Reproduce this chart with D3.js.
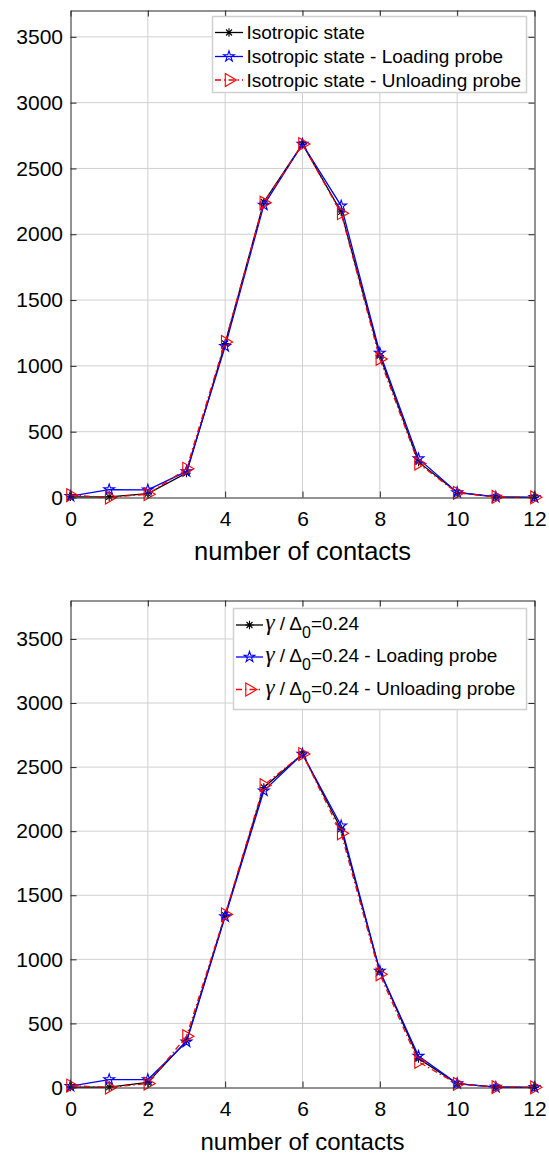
<!DOCTYPE html>
<html>
<head>
<meta charset="utf-8">
<script src="https://cdn.jsdelivr.net/npm/d3@7"></script>
<style>
  body { margin: 0; background: #fff; }
  svg { display: block; font-family: "Liberation Sans", Arial, sans-serif; }
</style>
</head>
<body>
<div id="chart"></div>
<script>
// Distribution of number of contacts: isotropic state and gamma/Delta0 = 0.24

const contacts = [0, 1, 2, 3, 4, 5, 6, 7, 8, 9, 10, 11, 12];
const xTicks = [0, 2, 4, 6, 8, 10, 12];
const yTicks = [0, 500, 1000, 1500, 2000, 2500, 3000, 3500];

// top panel
const isoState     = [5, 5, 30, 185, 1170, 2245, 2685, 2170, 1078, 270, 38, 4, 1];
const isoLoading   = [10, 60, 58, 198, 1148, 2222, 2685, 2216, 1098, 295, 38, 4, 1];
const isoUnloading = [18, 0, 25, 218, 1182, 2240, 2685, 2160, 1053, 258, 35, 4, 1];
const isoLegend = ['Isotropic state', 'Isotropic state - Loading probe', 'Isotropic state - Unloading probe'];

// bottom panel
const gammaState     = [3, 3, 39, 364, 1344, 2341, 2602, 2016, 906, 226, 31, 3, 1];
const gammaLoading   = [10, 62, 62, 356, 1333, 2315, 2602, 2042, 909, 245, 31, 3, 1];
const gammaUnloading = [15, 0, 31, 400, 1350, 2359, 2602, 1984, 883, 200, 28, 3, 1];
const gammaLegendSuffix = ['', ' - Loading probe', ' - Unloading probe'];

const xLabel = 'number of contacts';

function init () {
  const width = 549, height = 1155;
  const left = 70.5, right = 534.5;

  const svg = d3.select('#chart').append('svg')
    .attr('width', width)
    .attr('height', height);

  const styles = [
    { color: '#000000', dash: null, marker: 'asterisk' },
    { color: '#0000ff', dash: null, marker: 'star' },
    { color: '#ff0000', dash: '6,3,1.5,3', marker: 'triangle' },
  ];

  const asteriskPath = 'M-4.2,0H4.2M0,-4.2V4.2M-3,-3L3,3M-3,3L3,-3';
  const starPath = d3.symbol(d3.symbolStar).size(36)();
  const trianglePath = d3.symbol(d3.symbolTriangle).size(72)();

  function drawMarker (g, type, color) {
    let p;
    if (type === 'asterisk') {
      p = g.append('path').attr('d', asteriskPath);
    } else if (type === 'star') {
      p = g.append('path').attr('d', starPath);
    } else {
      p = g.append('path').attr('d', trianglePath).attr('transform', 'rotate(90)');
    }
    p.attr('stroke', color).attr('stroke-width', 1.1).attr('fill', 'none');
  }

  ////////////////////////////////////////////////////////////////////////////////
  // One panel
  function drawPanel (opt) {
    const x = d3.scaleLinear().domain([0, 12]).range([left, right]);
    const y = d3.scaleLinear().domain([0, opt.yMax]).range([opt.bottom, opt.top]);
    const g = svg.append('g');

    // grid
    g.append('g').selectAll('line')
      .data(xTicks.slice(1, -1))
      .enter().append('line')
        .attr('x1', d => x(d)).attr('x2', d => x(d))
        .attr('y1', opt.top).attr('y2', opt.bottom)
        .attr('stroke', '#d0d0d0').attr('stroke-width', 1);
    g.append('g').selectAll('line')
      .data(yTicks.slice(1))
      .enter().append('line')
        .attr('x1', left).attr('x2', right)
        .attr('y1', d => y(d)).attr('y2', d => y(d))
        .attr('stroke', '#d0d0d0').attr('stroke-width', 1);

    // series
    opt.series.forEach((values, i) => {
      const st = styles[i];
      const line = d3.line().x((d, j) => x(contacts[j])).y(d => y(d));
      g.append('path')
        .datum(values)
        .attr('d', line)
        .attr('fill', 'none')
        .attr('stroke', st.color)
        .attr('stroke-width', 1.3)
        .attr('stroke-dasharray', st.dash);
      values.forEach((v, j) => {
        const m = g.append('g').attr('transform', `translate(${x(contacts[j])},${y(v)})`);
        drawMarker(m, st.marker, st.color);
      });
    });

    // axes (ticks inside, on all four sides)
    const axisColor = '#262626';
    const fmt = d3.format('d');
    const axB = g.append('g').attr('transform', `translate(0,${opt.bottom})`)
      .call(d3.axisBottom(x).tickValues(xTicks).tickFormat(fmt).tickSize(-6).tickSizeOuter(0).tickPadding(13.5));
    const axT = g.append('g').attr('transform', `translate(0,${opt.top})`)
      .call(d3.axisTop(x).tickValues(xTicks).tickSize(-6).tickSizeOuter(0).tickFormat(''));
    const axL = g.append('g').attr('transform', `translate(${left},0)`)
      .call(d3.axisLeft(y).tickValues(yTicks).tickFormat(fmt).tickSize(-6).tickSizeOuter(0).tickPadding(7.5));
    const axR = g.append('g').attr('transform', `translate(${right},0)`)
      .call(d3.axisRight(y).tickValues(yTicks).tickSize(-6).tickSizeOuter(0).tickFormat(''));
    [axB, axT, axL, axR].forEach(a => {
      a.attr('font-family', null).attr('font-size', null);
      a.select('.domain').attr('stroke', axisColor);
      a.selectAll('.tick line').attr('stroke', axisColor);
      a.selectAll('.tick text').attr('fill', '#000').style('font-size', '21px');
    });

    // x label
    g.append('text')
      .attr('x', (left + right) / 2)
      .attr('y', opt.labelBaseline)
      .attr('text-anchor', 'middle')
      .style('font-size', opt.labelSize)
      .attr('fill', '#000')
      .text(xLabel);

    // legend
    const lg = opt.legend;
    g.append('rect')
      .attr('x', lg.x).attr('y', lg.y)
      .attr('width', lg.w).attr('height', lg.h)
      .attr('fill', '#fff')
      .attr('stroke', '#d0d0d0')
      .attr('stroke-width', 1.5);
    lg.rows.forEach((row, i) => {
      const st = styles[i];
      g.append('line')
        .attr('x1', lg.lineX[0]).attr('x2', lg.lineX[1])
        .attr('y1', row.cy).attr('y2', row.cy)
        .attr('stroke', st.color)
        .attr('stroke-width', 1.3)
        .attr('stroke-dasharray', st.dash);
      const m = g.append('g').attr('transform', `translate(${(lg.lineX[0] + lg.lineX[1]) / 2},${row.cy})`);
      drawMarker(m, st.marker, st.color);
      const t = g.append('text')
        .attr('x', lg.textX)
        .attr('y', row.baseline)
        .style('font-size', '19px')
        .attr('fill', '#000');
      lg.label(t, i);
    });
  }

  drawPanel({
    top: 10.5, bottom: 497.5, yMax: 3700,
    series: [isoState, isoLoading, isoUnloading],
    labelBaseline: 560, labelSize: '25.5px',
    legend: {
      x: 212.5, y: 16.5, w: 314, h: 76,
      lineX: [215, 243], textX: 246.5,
      rows: [{ cy: 32.5, baseline: 39 }, { cy: 56.5, baseline: 63 }, { cy: 80, baseline: 86.5 }],
      label: (t, i) => t.text(isoLegend[i]),
    },
  });

  drawPanel({
    top: 600.5, bottom: 1087.5, yMax: 3800,
    series: [gammaState, gammaLoading, gammaUnloading],
    labelBaseline: 1150, labelSize: '24px',
    legend: {
      x: 233.5, y: 608.5, w: 293, h: 101,
      lineX: [236, 263], textX: 265.5,
      rows: [{ cy: 625, baseline: 629.5 }, { cy: 657, baseline: 662 }, { cy: 689.5, baseline: 694.5 }],
      label: (t, i) => {
        t.append('tspan')
          .style('font-family', '"Liberation Serif", "DejaVu Serif", serif')
          .style('font-style', 'italic')
          .style('font-size', '23px')
          .text('\u03b3');
        t.append('tspan').text(' / \u0394');
        t.append('tspan').attr('dy', 8).style('font-size', '16px').text('0');
        t.append('tspan').attr('dy', -8).text('=0.24' + gammaLegendSuffix[i]);
      },
    },
  });
}
init();
</script>
</body>
</html>
